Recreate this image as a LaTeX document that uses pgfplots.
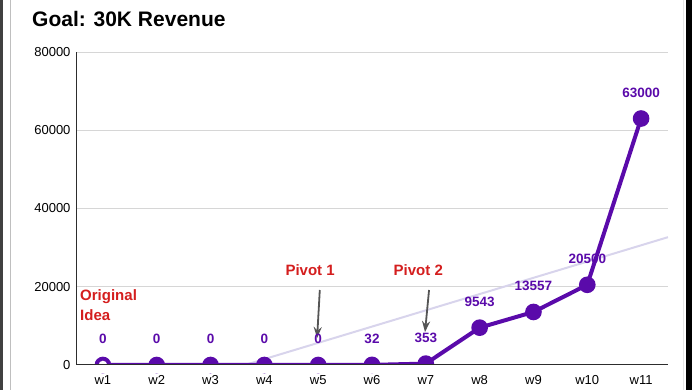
\documentclass[border=0pt]{standalone}
\usepackage{fontspec}
\setmainfont{Liberation Sans}
\usepackage{pgfplots}
\pgfplotsset{compat=1.18}
\usetikzlibrary{arrows.meta}
\definecolor{mainpurple}{RGB}{90,10,170}
\definecolor{trendcol}{RGB}{216,212,236}
\definecolor{annred}{RGB}{212,30,30}
\definecolor{arrowgray}{RGB}{85,85,85}
\definecolor{gridcol}{RGB}{214,214,214}
\definecolor{axiscol}{RGB}{45,45,45}
\begin{document}
\begin{tikzpicture}[x=1pt,y=1pt]
\path[use as bounding box] (0,0) rectangle (692,390);
\fill[black!75] (0,0) rectangle (3,390);
\draw[black!25, line width=0.8pt] (10,0)--(10,390);
\draw[black!10, line width=0.8pt] (683,0)--(683,390);
\fill[black] (686,0) rectangle (692,390);
\node[anchor=base west, font=\fontsize{21}{24}\selectfont\bfseries, inner sep=0] at (32,363) {Goal: 30K Revenue};
\begin{axis}[
  at={(76pt,25pt)}, anchor=south west,
  scale only axis, width=592pt, height=313pt,
  xmin=0.5, xmax=11.5, ymin=0, ymax=80000,
  xtick={1,2,3,4,5,6,7,8,9,10,11},
  xticklabels={w1,w2,w3,w4,w5,w6,w7,w8,w9,w10,w11},
  ytick={0,20000,40000,60000,80000},
  scaled y ticks=false,
  /pgf/number format/assume math mode=true,
  yticklabel style={/pgf/number format/1000 sep={}, font=\fontsize{13}{15}\selectfont, xshift=-2pt},
  xticklabel style={font=\fontsize{13}{15}\selectfont, yshift=-7pt},
  major tick length=0pt,
  axis x line*=bottom, axis y line*=left,
  axis line style={axiscol, line width=1pt, -},
  ymajorgrids, grid style={gridcol, line width=0.9pt},
]
\addplot[trendcol, line width=2pt] coordinates {(3.638,0) (11.5,32673)};
\addplot[mainpurple, line width=4pt, mark=*, mark size=6.3pt,
  mark options={fill=mainpurple, draw=mainpurple},
  nodes near coords,
  point meta=explicit symbolic,
  every node near coord/.style={anchor=south, inner sep=0pt, yshift=19pt,
    font=\fontsize{13.5}{15}\selectfont\bfseries, text=mainpurple}]
  coordinates {
  (1,0) [0] (2,0) [0] (3,0) [0] (4,0) [0] (5,0) [0] (6,32) [32] (7,353) [353]
  (8,9543) [9543] (9,13557) [13557] (10,20500) [20500] (11,63000) [63000]};
\addplot[only marks, mark=*, mark size=5.3pt, mark options={fill=white, draw=mainpurple, line width=1.6pt}] coordinates {(1,0)};
\node[anchor=west, align=left, font=\fontsize{15}{20}\selectfont\bfseries, text=annred, inner sep=0pt] at (axis cs:0.575,15300) {Original\\Idea};
\node[font=\fontsize{15}{18}\selectfont\bfseries, text=annred, inner sep=0pt] at (axis cs:4.85,24300) {Pivot 1};
\node[font=\fontsize{15}{18}\selectfont\bfseries, text=annred, inner sep=0pt] at (axis cs:6.86,24300) {Pivot 2};
\draw[-{Stealth[length=11pt,width=8pt]}, arrowgray, line width=1.8pt] (axis cs:5.03,19170) -- (axis cs:4.98,6900);
\draw[-{Stealth[length=11pt,width=8pt]}, arrowgray, line width=1.8pt] (axis cs:7.06,19170) -- (axis cs:6.985,8400);
\end{axis}
\fill[white] (76,17) rectangle (668,24.5);
\draw[axiscol, line width=1pt] (76,25) -- (668,25);
\end{tikzpicture}
\end{document}
